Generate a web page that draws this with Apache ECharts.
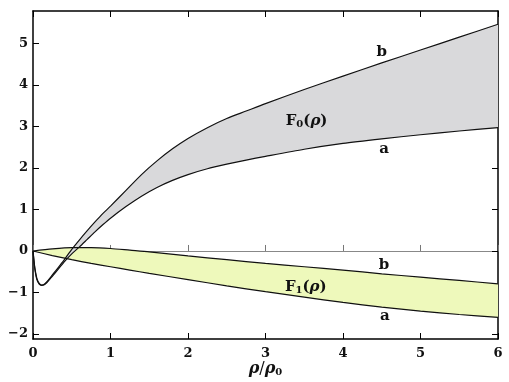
<!DOCTYPE html>
<html lang="en">
<head>
<meta charset="UTF-8" />
<title></title>
<script src="https://cdn.jsdelivr.net/npm/echarts@6/dist/echarts.min.js"></script>
<style>
    html, body { margin: 0; padding: 0; background: #fff; }
    #chart { width: 509px; height: 382px; }
</style>
</head>
<body>
<div id="chart"></div>
<script>
// F0 band, curves a (lower) and b (upper)
const xF0 = [0, 0.01, 0.025, 0.05, 0.08, 0.11, 0.14, 0.18, 0.24, 0.3, 0.4, 0.5, 0.6, 0.7, 0.8, 0.9,
    1.0, 1.2, 1.4, 1.6, 1.8, 2.0, 2.25, 2.5, 2.75, 3.0, 3.5, 4.0, 4.5, 5.0, 5.5, 6.0];
const f0b = [0, -0.18, -0.42, -0.66, -0.78, -0.82, -0.81, -0.74, -0.60, -0.46, -0.22, 0.04, 0.27, 0.49, 0.70, 0.90,
    1.08, 1.46, 1.84, 2.17, 2.46, 2.71, 2.97, 3.19, 3.37, 3.55, 3.89, 4.21, 4.53, 4.84, 5.15, 5.46];
const f0a = [0, -0.20, -0.45, -0.69, -0.80, -0.83, -0.82, -0.76, -0.63, -0.50, -0.27, -0.07, 0.10, 0.28, 0.46, 0.63,
    0.79, 1.07, 1.32, 1.53, 1.70, 1.84, 1.98, 2.09, 2.19, 2.28, 2.45, 2.59, 2.70, 2.80, 2.89, 2.97];

// F1 band
const xF1 = [0, 0.25, 0.5, 0.75, 1.0, 1.25, 1.5, 2.0, 2.5, 3.0, 3.5, 4.0, 4.5, 5.0, 5.5, 6.0];
const f1b = [0, 0.05, 0.08, 0.08, 0.06, 0.02, -0.02, -0.12, -0.21, -0.30, -0.38, -0.46, -0.55, -0.63, -0.71, -0.79];
const f1a = [0, -0.11, -0.21, -0.30, -0.38, -0.46, -0.54, -0.69, -0.84, -0.98, -1.11, -1.24, -1.35, -1.45, -1.53, -1.60];

const xTicks = [0, 1, 2, 3, 4, 5, 6];
const yTicks = [-2, -1, 0, 1, 2, 3, 4, 5];

const serif = "DejaVu Serif";
const rich = {
    f: { fontFamily: serif, fontWeight: "bold", fontSize: 15, color: "#111" },
    s: { fontFamily: serif, fontWeight: "bold", fontSize: 10, color: "#111", padding: [7, 0, 0, 0] },
    p: { fontFamily: serif, fontSize: 15, color: "#111" },
    r: { fontFamily: serif, fontWeight: "bold", fontStyle: "italic", fontSize: 15, color: "#111" },
};

const pairs = (xs, ys) => xs.map((x, i) => [x, ys[i]]);

const note = (coord, text) => ({
    coord,
    label: { formatter: text },
});

// filled region between lo and hi, drawn as one polygon in data coordinates
function band(xs, lo, hi, fill) {
    return {
        type: "custom", silent: true, clip: true,
        data: [[xs[0], lo[0]]],
        renderItem(params, api) {
            const top = xs.map((x, i) => api.coord([x, hi[i]]));
            const bot = xs.map((x, i) => api.coord([x, lo[i]])).reverse();
            return {
                type: "polygon",
                shape: { points: top.concat(bot) },
                style: { fill, stroke: null },
            };
        },
    };
}

function curve(xs, ys, notes) {
    return {
        type: "line", smooth: 0.25, symbol: "none", silent: true,
        lineStyle: { color: "#111", width: 1.2 },
        data: pairs(xs, ys),
        markPoint: {
            symbol: "circle", symbolSize: 0, silent: true,
            label: { show: true, position: "inside", rich, color: "#111",
                fontFamily: serif, fontWeight: "bold", fontSize: 15 },
            data: notes,
        },
    };
}

const frame = { show: true, onZero: false, lineStyle: { color: "#000", width: 1.5 } };
const ticksIn = { show: true, inside: true, length: 6, lineStyle: { color: "#000", width: 1 } };
const tickFont = { fontFamily: serif, fontWeight: "bold", fontSize: 13, color: "#111" };
const minus = (v) => (v < 0 ? "\u2212" + Math.abs(v) : String(v));

const chart = echarts.init(document.getElementById("chart"));
chart.setOption({
    animation: false,
    grid: { left: 33, right: 11, top: 11, bottom: 43, containLabel: false, outerBoundsMode: "none" },
    xAxis: [
        {
            type: "value", min: 0, max: 6, position: "bottom",
            axisLine: frame, axisTick: { ...ticksIn, customValues: xTicks },
            axisLabel: { ...tickFont, margin: 8, customValues: xTicks },
            splitLine: { show: false },
            name: "{r|ρ}{p|/}{r|ρ}{s|0}", nameLocation: "middle", nameGap: 21, nameMoveOverlap: false,
            nameTextStyle: { rich: { ...rich, r: { ...rich.r, fontSize: 16 }, p: { ...rich.p, fontSize: 16 } } },
        },
        {
            type: "value", min: 0, max: 6, position: "top",
            axisLine: frame, axisTick: { ...ticksIn, customValues: xTicks },
            axisLabel: { show: false }, splitLine: { show: false },
        },
        {
            // zero line with its own ticks
            type: "value", min: 0, max: 6, position: "bottom",
            axisLine: { show: true, onZero: true, onZeroAxisIndex: 0, lineStyle: { color: "#888", width: 1 } },
            axisTick: { show: true, inside: true, length: 6, customValues: xTicks, lineStyle: { color: "#777", width: 1 } },
            axisLabel: { show: false }, splitLine: { show: false },
        },
    ],
    yAxis: [
        {
            type: "value", min: -2.12, max: 5.78, position: "left",
            axisLine: frame, axisTick: { ...ticksIn, customValues: yTicks },
            axisLabel: { ...tickFont, margin: 5, customValues: yTicks, formatter: minus },
            splitLine: { show: false },
        },
        {
            type: "value", min: -2.12, max: 5.78, position: "right",
            axisLine: frame, axisTick: { ...ticksIn, customValues: yTicks },
            axisLabel: { show: false }, splitLine: { show: false },
        },
    ],
    series: [
        band(xF1, f1a, f1b, "#eef9bb"),
        band(xF0, f0a, f0b, "#d9d9db"),
        curve(xF1, f1b, [note([4.53, -0.35], "b"), note([3.52, -0.86], "{f|F}{s|1}{p|(}{r|ρ}{p|)}")]),
        curve(xF1, f1a, [note([4.54, -1.58], "a")]),
        curve(xF0, f0b, [note([4.5, 4.78], "b"), note([3.53, 3.13], "{f|F}{s|0}{p|(}{r|ρ}{p|)}")]),
        curve(xF0, f0a, [note([4.53, 2.46], "a")]),
    ],
});
</script>
</body>
</html>
